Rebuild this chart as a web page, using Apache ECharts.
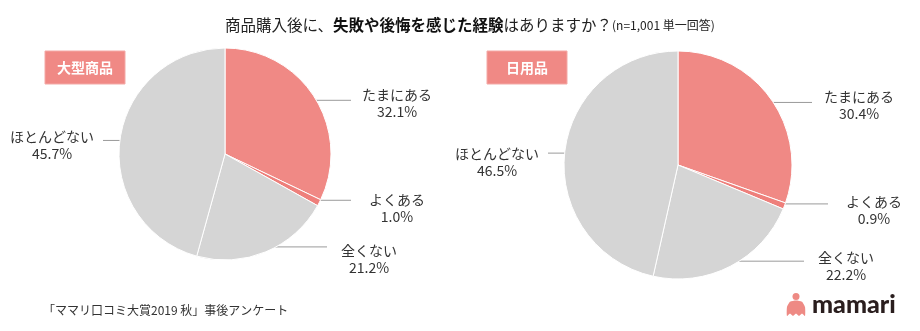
<!DOCTYPE html>
<html><head><meta charset="utf-8">
<script src="https://cdn.jsdelivr.net/npm/echarts@6/dist/echarts.min.js"></script>
<style>html,body{margin:0;padding:0;background:#fff}#c{width:920px;height:331px}</style>
</head><body><div id="c"></div>
<script>
// ---- data ----
const categories = ['たまにある', 'よくある', '全くない', 'ほとんどない'];
const largeGoods = [32.1, 1.0, 21.2, 45.7];   // 大型商品
const dailyGoods = [30.4, 0.9, 22.2, 46.5];   // 日用品
const groupNames = ['大型商品', '日用品'];
const titleParts = ['商品購入後に、', '失敗や後悔を感じた経験', 'はありますか？', '(n=1,001 単一回答)'];
const sourceText = '「ママリ口コミ大賞2019 秋」事後アンケート';

// ---- layout / style (not data) ----
const FONT = '"Noto Sans CJK JP", "Noto Sans", sans-serif';
const PINK = '#F08985', PINK2 = '#EE7F7B', GRAY = '#D5D5D5';
const sliceColors = [PINK, PINK2, GRAY, GRAY];
const pies = [
  { center: [225, 154], r: 106,
    labels: [[397, 103, 351], [397, 208, 351], [369, 259, 327], [52, 145, 103]] },
  { center: [678, 165], r: 114,
    labels: [[859, 105, 812], [874, 210, 828], [846, 266, 804], [497, 162, 548]] }
];
const seriesValues = [largeGoods, dailyGoods];

function makeSeries(si) {
  const p = pies[si], vals = seriesValues[si];
  const total = vals.reduce((a, b) => a + b, 0);
  return {
    type: 'pie', center: p.center, radius: p.r, startAngle: 90, clockwise: true,
    silent: true, animation: false, avoidLabelOverlap: false,
    itemStyle: { borderColor: '#fff', borderWidth: 1 },
    label: { show: true, position: 'outside',
      formatter: (q) => q.name + '\n' + Number(q.value).toFixed(1) + '%',
      fontFamily: FONT, fontSize: 14, lineHeight: 17, color: '#333', align: 'center' },
    labelLine: { show: true, length: 10, length2: 10, lineStyle: { color: '#9a9a9a', width: 1 } },
    labelLayout: function (params) {
      const i = params.dataIndex;
      let cum = 0; for (let k = 0; k < i; k++) cum += vals[k];
      const a = (cum + vals[i] / 2) / total * Math.PI * 2;
      const ax = p.center[0] + 0.95 * p.r * Math.sin(a);
      const ay = p.center[1] - 0.95 * p.r * Math.cos(a);
      const L = p.labels[i];
      return { x: L[0], y: L[1], align: 'center', verticalAlign: 'middle',
        labelLinePoints: [[ax, ay], [L[2], ay], [L[2], ay]] };
    },
    data: categories.map((c, i) => ({ name: c, value: vals[i], itemStyle: { color: sliceColors[i] } }))
  };
}

const chart = echarts.init(document.getElementById('c'), null, { renderer: 'canvas' });

function tag(x, text) {
  return [
    { type: 'rect', x: x, y: 51, shape: { x: 0, y: 0, width: 80, height: 33 },
      style: { fill: PINK, stroke: '#F4A9A6', lineWidth: 1 } },
    { type: 'text', x: x + 40, y: 68, style: { text: text, fill: '#fff', font: 'bold 14px ' + FONT,
      textAlign: 'center', textVerticalAlign: 'middle' } }
  ];
}

chart.setOption({
  backgroundColor: '#fff',
  title: {
    left: 220, top: 12,
    text: '{n|' + titleParts[0] + '}{b|' + titleParts[1] + '}{n|' + titleParts[2] + '}{s|' + titleParts[3] + '}',
    textStyle: { fontWeight: 'normal', rich: {
      n: { fontFamily: FONT, fontSize: 15.5, fontWeight: 'normal', color: '#222' },
      b: { fontFamily: FONT, fontSize: 15.5, fontWeight: 'bold', color: '#111' },
      s: { fontFamily: FONT, fontSize: 12, fontWeight: 'normal', color: '#222', padding: [2, 0, 0, 0] }
    } }
  },
  series: [makeSeries(0), makeSeries(1)],
  graphic: [].concat(
    tag(45, groupNames[0]),
    tag(487, groupNames[1]),
    [
      { type: 'text', x: 43, y: 310, style: { text: sourceText, font: '12px ' + FONT, fill: '#333', textVerticalAlign: 'middle' } },
      { type: 'circle', shape: { cx: 796, cy: 296.5, r: 3.5 }, style: { fill: '#EE8A84' } },
      { type: 'polygon', shape: { smooth: 0.2, points: [[787,316],[787,307],[790,301.8],[796,300.5],[802,301.8],[805,307],[805,316],[802,313.5],[799,316],[796,313.5],[793,316],[790,313.5]] },
        style: { fill: '#EE8A84' } },
      { type: 'text', x: 812, y: 305, style: { text: 'mamari', font: '900 25px Lato, "Noto Sans", sans-serif', fill: '#2a1e1e', textVerticalAlign: 'middle' } }
    ]
  )
});
</script></body></html>
